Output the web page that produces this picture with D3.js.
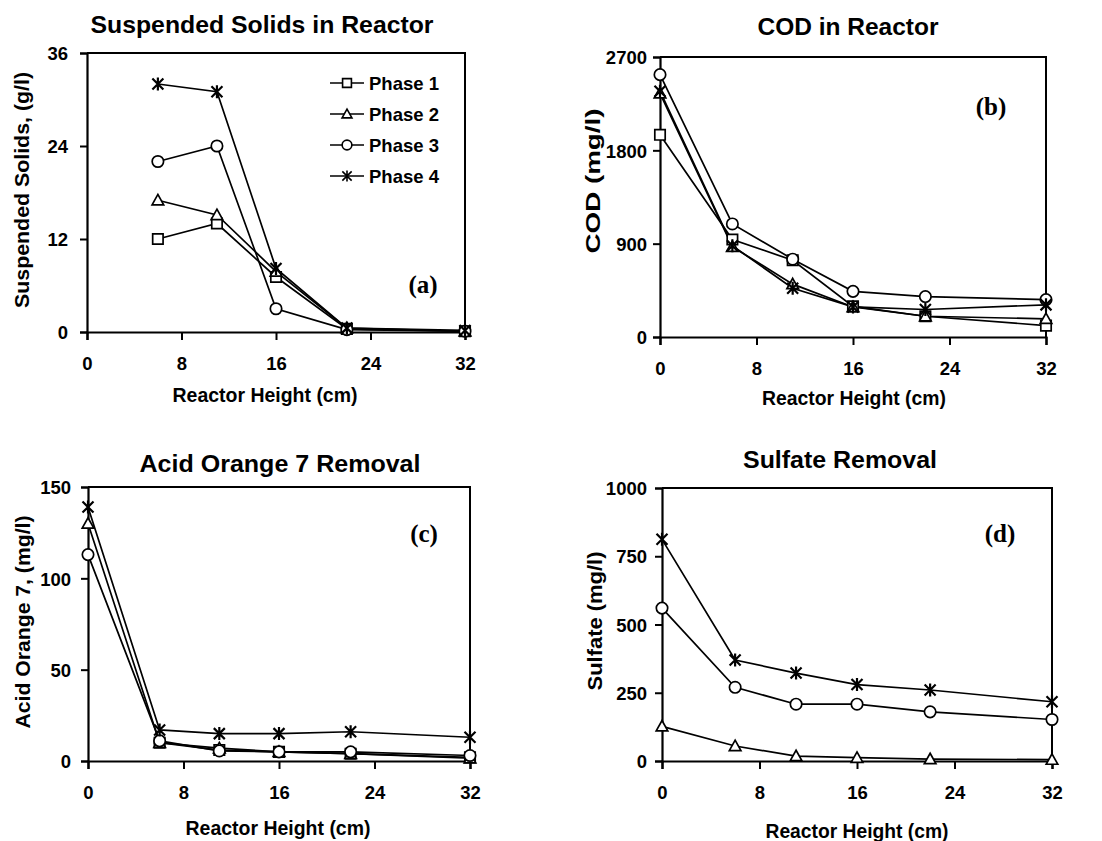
<!DOCTYPE html>
<html>
<head>
<meta charset="utf-8">
<script src="https://cdn.jsdelivr.net/npm/d3@7/dist/d3.min.js"></script>
<style>
  html, body { margin: 0; padding: 0; background: #fff; }
  svg { display: block; }
  text { font-family: "Liberation Sans", Arial, sans-serif; font-weight: bold; fill: #000; }
</style>
</head>
<body>
<svg id="chart" width="1102" height="841"></svg>
<script>
// ---------- DATA ----------
const phaseNames = ["Phase 1", "Phase 2", "Phase 3", "Phase 4"];
const xTicks = [0, 8, 16, 24, 32];

// (a) Suspended solids (g/l)
const ssHeights = [6, 11, 16, 22, 32];
const ssPhase1 = [12, 14, 7.1, 0.4, 0.1];
const ssPhase2 = [17, 15.1, 7.8, 0.5, 0.1];
const ssPhase3 = [22, 24, 3.0, 0.3, 0.1];
const ssPhase4 = [32, 31, 8.2, 0.5, 0.2];
const ssTicks = [0, 12, 24, 36];

// (b) COD (mg/l)
const codHeights = [0, 6, 11, 16, 22, 32];
const codPhase1 = [1950, 940, 740, 295, 200, 110];
const codPhase2 = [2350, 870, 510, 290, 200, 175];
const codPhase3 = [2530, 1090, 750, 440, 390, 360];
const codPhase4 = [2370, 880, 470, 290, 265, 310];
const codTicks = [0, 900, 1800, 2700];

// (c) Acid Orange 7 (mg/l)
const aoHeights = [0, 6, 11, 16, 22, 32];
const aoPhase1Heights = [6, 11, 16, 22, 32];
const aoPhase1 = [10, 6, 5, 4, 2];
const aoPhase2 = [130, 10, 7, 5, 4, 1.5];
const aoPhase3 = [113, 11, 5.5, 5, 5, 3];
const aoPhase4 = [139, 17, 15, 15, 16, 13];
const aoTicks = [0, 50, 100, 150];

// (d) Sulfate (mg/l)
const suHeights = [0, 6, 11, 16, 22, 32];
const suPhase2 = [127, 55, 18, 12, 7, 5];
const suPhase3 = [560, 270, 208, 208, 180, 152];
const suPhase4 = [812, 370, 322, 280, 260, 217];
const suTicks = [0, 250, 500, 750, 1000];

// ---------- MARKERS ----------
function markerPath(kind) {
  if (kind === 0) { const s = 5.2; return `M${-s},${-s}H${s}V${s}H${-s}Z`; }
  if (kind === 1) { return "M0,-5.8L5.8,4.6L-5.8,4.6Z"; }
  if (kind === 2) { const r = 5.7; return `M${r},0A${r},${r} 0 1,1 ${-r},0A${r},${r} 0 1,1 ${r},0Z`; }
  const s = 6.5, d = 5.5;
  return `M0,${-s}V${s}M${-d},${-d}L${d},${d}M${-d},${d}L${d},${-d}`;
}

const svg = d3.select("#chart");

function panel(cfg) {
  const g = svg.append("g");
  const x = d3.scaleLinear().domain([0, 32]).range([cfg.x0, cfg.x1]);
  const y = d3.scaleLinear().domain([0, cfg.ymax]).range([cfg.y1, cfg.y0]);

  // frame (top & right)
  g.append("path")
    .attr("d", `M${cfg.x0},${cfg.y0}H${cfg.x1}V${cfg.y1}`)
    .attr("fill", "none").attr("stroke", "#000").attr("stroke-width", 2);

  const xa = g.append("g").attr("transform", `translate(0,${cfg.y1})`)
    .call(d3.axisBottom(x).tickValues(xTicks).tickSize(8).tickPadding(17).tickFormat(d3.format("d")));
  const ya = g.append("g").attr("transform", `translate(${cfg.x0},0)`)
    .call(d3.axisLeft(y).tickValues(cfg.ticks).tickSize(7).tickPadding(cfg.tickPad).tickFormat(d3.format("d")));
  [xa, ya].forEach(a => {
    a.select(".domain").attr("stroke", "#000").attr("stroke-width", 2.2);
    a.selectAll(".tick line").attr("stroke", "#000").attr("stroke-width", 2);
    a.selectAll("text").style("font-size", "18.5px").style("font-family", "Liberation Sans, Arial, sans-serif").style("font-weight", "bold").attr("fill", "#000");
  });
  ya.selectAll("text").attr("dy", "0.36em");

  // titles
  g.append("text").attr("x", cfg.titleX).attr("y", cfg.titleY).attr("text-anchor", "middle")
    .style("font-size", "24px").attr("textLength", cfg.titleLen).attr("lengthAdjust", "spacingAndGlyphs").text(cfg.title);
  g.append("text").attr("x", cfg.xTitleX).attr("y", cfg.xTitleY).attr("text-anchor", "middle")
    .style("font-size", "19.5px").attr("textLength", cfg.xTitleLen).attr("lengthAdjust", "spacingAndGlyphs").text("Reactor Height (cm)");
  g.append("text").attr("transform", `translate(${cfg.yTitleX},${cfg.yTitleY}) rotate(-90)`)
    .attr("text-anchor", "middle").style("font-size", "20px")
    .attr("textLength", cfg.yTitleLen).attr("lengthAdjust", "spacingAndGlyphs").text(cfg.yTitle);
  g.append("text").attr("x", cfg.tagX).attr("y", cfg.tagY).attr("text-anchor", "middle")
    .style("font-family", "Liberation Serif, Times New Roman, serif").style("font-size", "25px").text(cfg.tag);

  const line = d3.line().x(d => x(d[0])).y(d => y(d[1]));
  cfg.series.forEach(s => {
    const pts = s.hs.map((h, i) => [h, s.vals[i]]);
    g.append("path").datum(pts).attr("d", line)
      .attr("fill", "none").attr("stroke", "#000").attr("stroke-width", 1.7);
  });
  cfg.series.forEach(s => {
    const pts = s.hs.map((h, i) => [h, s.vals[i]]);
    g.selectAll(null).data(pts).enter().append("path")
      .attr("transform", d => `translate(${x(d[0])},${y(d[1])})`)
      .attr("d", markerPath(s.kind))
      .attr("fill", s.kind === 3 ? "none" : "#fff")
      .attr("stroke", "#000").attr("stroke-width", s.kind === 3 ? 2.2 : 1.7);
  });
  return g;
}

// (a)
const ga = panel({
  x0: 87, x1: 465, y0: 53, y1: 332, ymax: 36, ticks: ssTicks, tickPad: 12,
  title: "Suspended Solids in Reactor", titleX: 262, titleY: 33, titleLen: 343,
  xTitleX: 265, xTitleY: 402, xTitleLen: 185,
  yTitle: "Suspended Solids, (g/l)", yTitleX: 29, yTitleY: 190, yTitleLen: 236,
  tag: "(a)", tagX: 423, tagY: 293,
  series: [
    { hs: ssHeights, vals: ssPhase1, kind: 0 },
    { hs: ssHeights, vals: ssPhase2, kind: 1 },
    { hs: ssHeights, vals: ssPhase3, kind: 2 },
    { hs: ssHeights, vals: ssPhase4, kind: 3 }
  ]
});

// legend in (a)
const legY = [83, 114, 145, 176];
phaseNames.forEach((name, i) => {
  const lg = ga.append("g").attr("transform", `translate(0,${legY[i]})`);
  lg.append("line").attr("x1", 330).attr("x2", 364).attr("y1", 0).attr("y2", 0)
    .attr("stroke", "#000").attr("stroke-width", 1.7);
  lg.append("path").attr("transform", "translate(347,0) scale(0.85)").attr("d", markerPath(i))
    .attr("fill", i === 3 ? "none" : "#fff").attr("stroke", "#000").attr("stroke-width", 1.9);
  lg.append("text").attr("x", 369).attr("y", 0).attr("dy", "0.36em")
    .style("font-size", "18.5px").text(name);
});

// (b)
panel({
  x0: 660, x1: 1046, y0: 57, y1: 337, ymax: 2700, ticks: codTicks, tickPad: 6,
  title: "COD in Reactor", titleX: 848, titleY: 35, titleLen: 181,
  xTitleX: 854, xTitleY: 405, xTitleLen: 184,
  yTitle: "COD (mg/l)", yTitleX: 600, yTitleY: 181, yTitleLen: 145,
  tag: "(b)", tagX: 991, tagY: 115,
  series: [
    { hs: codHeights, vals: codPhase1, kind: 0 },
    { hs: codHeights, vals: codPhase2, kind: 1 },
    { hs: codHeights, vals: codPhase3, kind: 2 },
    { hs: codHeights, vals: codPhase4, kind: 3 }
  ]
});

// (c)
panel({
  x0: 88, x1: 470, y0: 487, y1: 761, ymax: 150, ticks: aoTicks, tickPad: 10,
  title: "Acid Orange 7 Removal", titleX: 280, titleY: 472, titleLen: 281,
  xTitleX: 278, xTitleY: 835, xTitleLen: 185,
  yTitle: "Acid Orange 7, (mg/l)", yTitleX: 30, yTitleY: 622, yTitleLen: 213,
  tag: "(c)", tagX: 424, tagY: 542,
  series: [
    { hs: aoPhase1Heights, vals: aoPhase1, kind: 0 },
    { hs: aoHeights, vals: aoPhase2, kind: 1 },
    { hs: aoHeights, vals: aoPhase3, kind: 2 },
    { hs: aoHeights, vals: aoPhase4, kind: 3 }
  ]
});

// (d)
panel({
  x0: 662, x1: 1052, y0: 488, y1: 761, ymax: 1000, ticks: suTicks, tickPad: 8,
  title: "Sulfate Removal", titleX: 840, titleY: 468, titleLen: 194,
  xTitleX: 857, xTitleY: 838, xTitleLen: 183,
  yTitle: "Sulfate (mg/l)", yTitleX: 602, yTitleY: 621, yTitleLen: 139,
  tag: "(d)", tagX: 1000, tagY: 542,
  series: [
    { hs: suHeights, vals: suPhase2, kind: 1 },
    { hs: suHeights, vals: suPhase3, kind: 2 },
    { hs: suHeights, vals: suPhase4, kind: 3 }
  ]
});
</script>
</body>
</html>
